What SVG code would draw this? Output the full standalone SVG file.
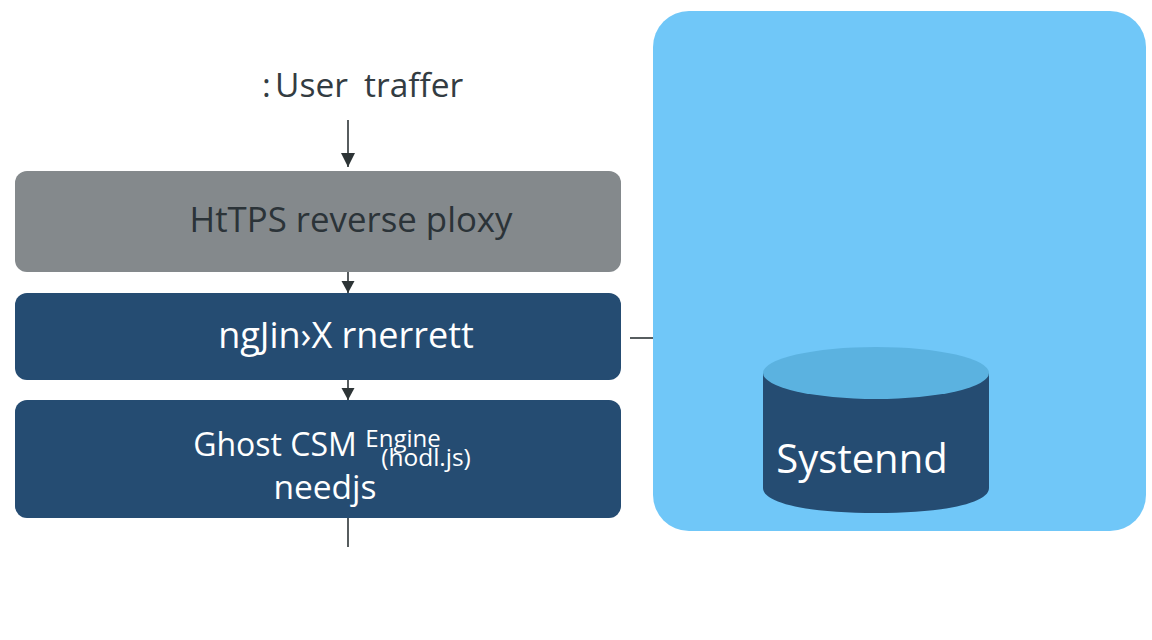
<svg xmlns="http://www.w3.org/2000/svg" width="1152" height="640" viewBox="0 0 1152 640">
<style>
text{font-family:"Open Sans","Noto Sans","Liberation Sans",sans-serif;text-anchor:middle}
.l{fill:#fff}
.c{stroke:#2d3436;stroke-width:1.6;fill:none}
.d{fill:#254c72}
</style>
<defs>
<marker id="a" markerWidth="15" markerHeight="15" refX="14" refY="7" orient="auto" markerUnits="userSpaceOnUse"><path d="M0 0L14 7L0 14Z" fill="#2d3436"/></marker>
<marker id="b" markerWidth="14" markerHeight="14" refX="12" refY="6.5" orient="auto" markerUnits="userSpaceOnUse"><path d="M0 0L12 6.5L0 13Z" fill="#2d3436"/></marker>
</defs>
<rect width="1152" height="640" fill="#fff"/>
<g id="panel"><rect x="653" y="11" width="493" height="520" rx="36" fill="#70c7f8"/></g>
<g id="connectors">
<path class="c" d="M348 120V167" marker-end="url(#a)"/>
<path class="c" d="M348 272V293" marker-end="url(#b)"/>
<path class="c" d="M348 380V400" marker-end="url(#b)"/>
<path class="c" d="M348 518V547"/>
<path class="c" d="M630 338H653"/>
</g>
<g id="user"><text y="97" font-size="33.5" fill="#333c42" style="text-anchor:start"><tspan x="262">:</tspan><tspan x="275">User</tspan><tspan x="364">traffer</tspan></text></g>
<g id="proxy"><rect x="15" y="171" width="606" height="101" rx="12" fill="#84898c"/><text x="351" y="232" font-size="34.8" fill="#2b3338">HtTPS reverse ploxy</text></g>
<g id="nginx"><rect class="d" x="15" y="293" width="606" height="87" rx="12"/><text class="l" x="346" y="348" font-size="36">ngJin›X rnerrett</text></g>
<g id="ghost"><rect class="d" x="15" y="400" width="606" height="118" rx="12"/><text class="l" x="275" y="456" font-size="32">Ghost CSM</text><text class="l" x="403" y="447" font-size="24">Engine</text><text class="l" x="426" y="466" font-size="24.5">(hodl.js)</text><text class="l" x="325" y="499" font-size="33.5">needjs</text></g>
<g id="systemd"><path class="d" d="M763 373V488C763 504 812 513 876 513C940 513 989 504 989 488V373Z"/><ellipse cx="876" cy="373" rx="113" ry="26" fill="#5bb2e0"/><text class="l" x="862" y="473" font-size="40">Systennd</text></g>
</svg>
